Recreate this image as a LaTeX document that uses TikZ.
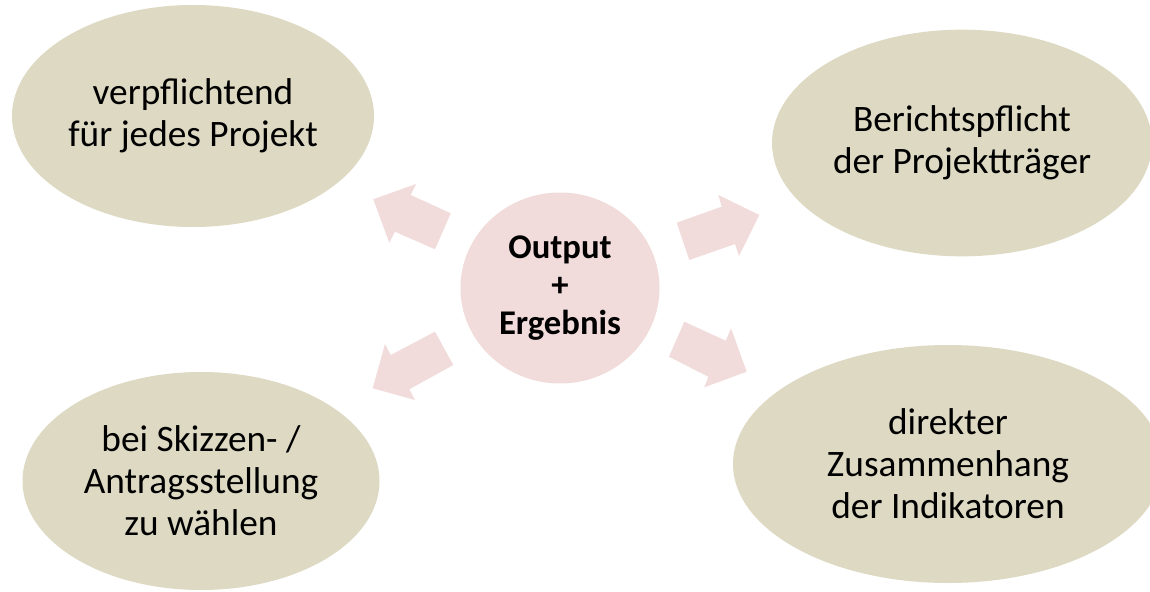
\documentclass[tikz,border=0pt]{standalone}
\usepackage{fontspec}
\setmainfont{Carlito}
\usetikzlibrary{shapes.geometric}
\definecolor{tan}{HTML}{DDD9C3}
\definecolor{rose}{HTML}{F2DCDB}
\tikzset{
  bubble/.style={ellipse, fill=tan, inner sep=0pt, align=center, text=black,
    font=\fontsize{28}{31.5}\selectfont},
  hub/.style={ellipse, fill=rose, inner sep=0pt, align=center, text=black,
    font=\fontsize{26}{28.5}\selectfont\bfseries},
  blockarrow/.style={fill=rose, draw=none}
}
\begin{document}
\begin{tikzpicture}[x=0.75pt, y=-0.75pt]
\useasboundingbox (0,0) rectangle (1150,592);
\clip (0,0) rectangle (1150,592);
\fill[white] (0,0) rectangle (1150,592);

% arrows
\fill[blockarrow] (373.3,199.3) -- (416,184) -- (410.7,195) -- (450.7,213.3) -- (435,249.3) -- (395,231.7) -- (389.3,242.7) -- cycle;
\fill[blockarrow] (759.3,215) -- (718.3,195) -- (721.7,206.7) -- (676.7,222.7) -- (689.3,260) -- (735,244) -- (739,256) -- cycle;
\fill[blockarrow] (372.7,388.3) -- (385,344) -- (390.7,355) -- (435,331.7) -- (453.3,365) -- (409.3,389.3) -- (415,400) -- cycle;
\fill[blockarrow] (746.7,371.7) -- (731,328.3) -- (725.7,340.7) -- (684.3,321.7) -- (669,356.7) -- (708.3,376.7) -- (704.3,387.3) -- cycle;

% center
\node[hub, minimum width=149.25pt, minimum height=143.25pt] (hub) at (560,288) {Output\\+\\Ergebnis};

% bubbles
\node[bubble, minimum width=271.5pt, minimum height=166.5pt] (tl) at (193,116) {verpflichtend\\für jedes Projekt};
\node[bubble, minimum width=285pt, minimum height=170pt] (tr) at (962,143) {Berichtspflicht\\der Projektträger};
\node[bubble, minimum width=322.5pt, minimum height=178.5pt] (br) at (948,464) {direkter\\Zusammenhang\\der Indikatoren};
\node[bubble, minimum width=267.75pt, minimum height=163.5pt] (bl) at (201,481) {bei Skizzen- /\\Antragsstellung\\zu wählen};
\end{tikzpicture}
\end{document}
